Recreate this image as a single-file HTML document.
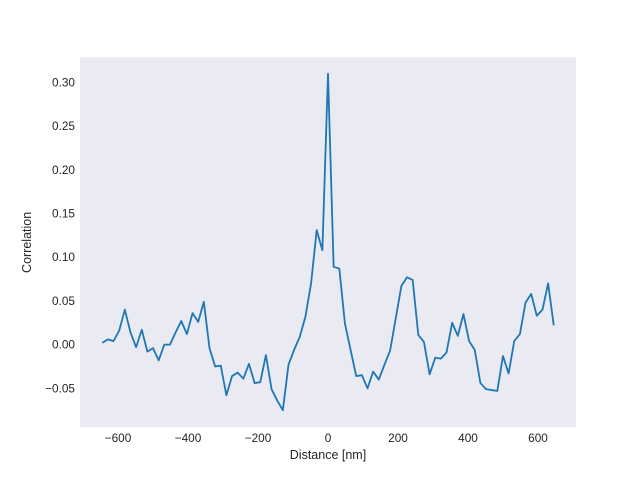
<!DOCTYPE html>
<html><head><meta charset="utf-8"><style>
html,body{margin:0;padding:0;background:#fff;}
svg{display:block;font-family:"Liberation Sans","DejaVu Sans",sans-serif;}
</style></head><body>
<svg id="chart" width="640" height="480">
<rect x="80" y="57.6" width="496" height="369.6" fill="#eaeaf2"/>
<g id="xticks"></g>
<g id="yticks"></g>
<path id="line" fill="none" stroke="#1f77b4" stroke-width="1.8" stroke-linejoin="round"/>
<text x="328" y="459" text-anchor="middle" font-size="12.5" fill="#262626">Distance [nm]</text>
<text transform="translate(31,242.4) rotate(-90)" text-anchor="middle" font-size="12.5" fill="#262626">Correlation</text>
</svg>
<script>
const distances=[-645,-628.9,-612.8,-596.6,-580.5,-564.4,-548.3,-532.1,-516,-499.9,-483.8,-467.6,-451.5,-435.4,-419.3,-403.1,-387,-370.9,-354.8,-338.6,-322.5,-306.4,-290.3,-274.1,-258,-241.9,-225.8,-209.6,-193.5,-177.4,-161.3,-145.1,-129,-112.9,-96.8,-80.6,-64.5,-48.4,-32.3,-16.1,0,16.1,32.3,48.4,64.5,80.6,96.8,112.9,129,145.1,161.3,177.4,193.5,209.6,225.8,241.9,258,274.1,290.3,306.4,322.5,338.6,354.8,370.9,387,403.1,419.3,435.4,451.5,467.6,483.8,499.9,516,532.1,548.3,564.4,580.5,596.6,612.8,628.9,645];
const correlation=[0.002,0.006,0.004,0.016,0.040,0.014,-0.003,0.017,-0.008,-0.004,-0.018,0.000,0.000,0.014,0.027,0.012,0.036,0.026,0.049,-0.004,-0.025,-0.024,-0.058,-0.036,-0.032,-0.039,-0.022,-0.044,-0.043,-0.012,-0.051,-0.064,-0.075,-0.023,-0.006,0.009,0.032,0.070,0.131,0.108,0.310,0.089,0.087,0.024,-0.006,-0.036,-0.035,-0.050,-0.031,-0.040,-0.023,-0.007,0.030,0.067,0.077,0.074,0.011,0.003,-0.034,-0.015,-0.016,-0.009,0.025,0.010,0.035,0.004,-0.006,-0.044,-0.051,-0.052,-0.053,-0.013,-0.033,0.004,0.012,0.048,0.058,0.033,0.040,0.070,0.022];
const xTickValues=[-600,-400,-200,0,200,400,600];
const yTickValues=[-0.05,0,0.05,0.10,0.15,0.20,0.25,0.30];
const yTickLabels=["−0.05","0.00","0.05","0.10","0.15","0.20","0.25","0.30"];
const xTickLabels=["−600","−400","−200","0","200","400","600"];
const NS="http://www.w3.org/2000/svg";
function sx(v){return 328+v*0.35;}
function sy(v){return 344.6-v*874;}
const xg=document.getElementById('xticks');
xTickValues.forEach((v,i)=>{
  const t=document.createElementNS(NS,'text');
  t.setAttribute('x',sx(v));t.setAttribute('y',442);t.setAttribute('text-anchor','middle');
  t.setAttribute('font-size','11.8');t.setAttribute('fill','#262626');
  
  
  t.textContent=xTickLabels[i];xg.appendChild(t);
});
const yg=document.getElementById('yticks');
yTickValues.forEach((v,i)=>{
  const t=document.createElementNS(NS,'text');
  t.setAttribute('x',75);t.setAttribute('y',sy(v)+4);t.setAttribute('text-anchor','end');
  t.setAttribute('font-size','11.8');t.setAttribute('fill','#262626');
  
  
  t.textContent=yTickLabels[i];yg.appendChild(t);
});
document.getElementById('line').setAttribute('d',distances.map((d,i)=>(i?'L':'M')+sx(d).toFixed(2)+','+sy(correlation[i]).toFixed(2)).join(' '));
</script>
</body></html>
